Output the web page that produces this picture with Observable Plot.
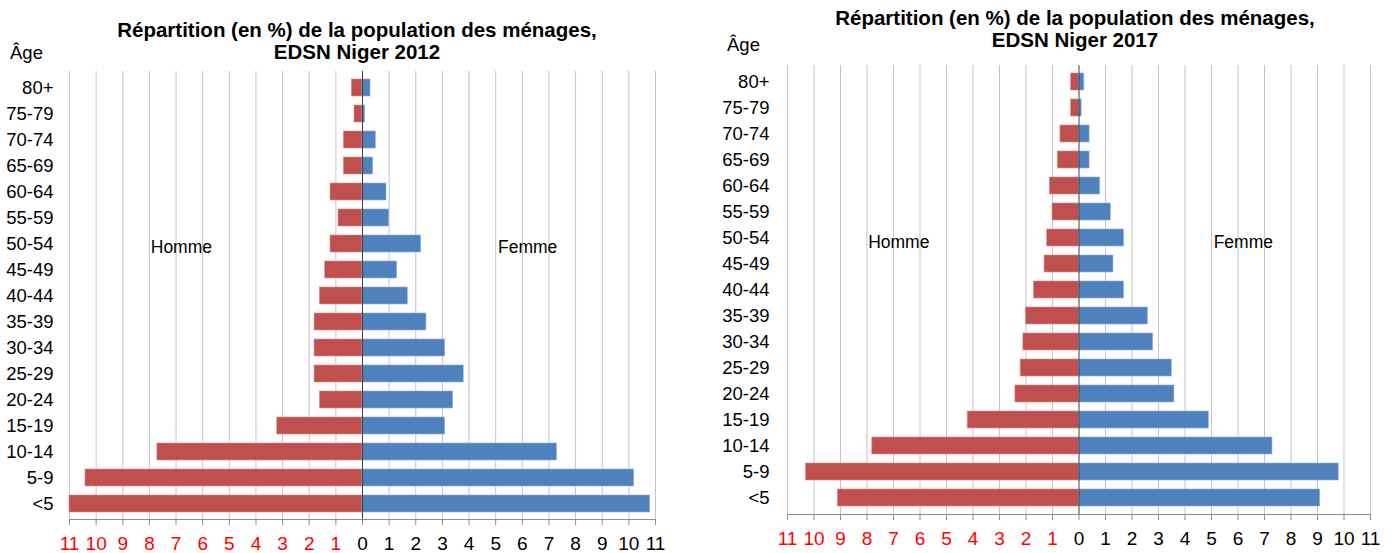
<!DOCTYPE html>
<html>
<head>
<meta charset="utf-8">
<script src="https://cdn.jsdelivr.net/npm/d3@7"></script>
<script src="https://cdn.jsdelivr.net/npm/@observablehq/plot@0.6"></script>
<style>
  html, body { margin: 0; padding: 0; background: #fff; }
  #page { position: relative; width: 1399px; height: 553px; overflow: hidden; font-family: "Liberation Sans", Arial, sans-serif; color: #000; }
  .chart { position: absolute; top: 0; }
  .title { position: absolute; width: 700px; text-align: center; font-weight: bold; font-size: 20.5px; line-height: 21.5px; white-space: nowrap; }
  .age { position: absolute; font-size: 18.5px; line-height: 18px; }
</style>
</head>
<body>
<div id="page">
  <div class="title" style="left:7px; top:19px;">Répartition (en %) de la population des ménages,<br>EDSN Niger 2012</div>
  <div class="title" style="left:725px; top:7px; line-height:22px;">Répartition (en %) de la population des ménages,<br>EDSN Niger 2017</div>
  <div class="age" style="left:10px; top:44px;">Âge</div>
  <div class="age" style="left:727px; top:36px;">Âge</div>
  <div id="left" class="chart" style="left:0px;"></div>
  <div id="right" class="chart" style="left:700px;"></div>
</div>
<script>
const ages = ["80+","75-79","70-74","65-69","60-64","55-59","50-54","45-49","40-44","35-39","30-34","25-29","20-24","15-19","10-14","5-9","<5"];

const hommes2012 = [0.4,0.3,0.7,0.7,1.2,0.9,1.2,1.4,1.6,1.8,1.8,1.8,1.6,3.2,7.7,10.4,11.0];
const femmes2012 = [0.3,0.1,0.5,0.4,0.9,1.0,2.2,1.3,1.7,2.4,3.1,3.8,3.4,3.1,7.3,10.2,10.8];

const hommes2017 = [0.3,0.3,0.7,0.8,1.1,1.0,1.2,1.3,1.7,2.0,2.1,2.2,2.4,4.2,7.8,10.3,9.1];
const femmes2017 = [0.2,0.1,0.4,0.4,0.8,1.2,1.7,1.3,1.7,2.6,2.8,3.5,3.6,4.9,7.3,9.8,9.1];

const xTicks = [-11,-10,-9,-8,-7,-6,-5,-4,-3,-2,-1,0,1,2,3,4,5,6,7,8,9,10,11];
const sexLabels = ["Homme", "Femme"];

const RED = "#C0504D", BLUE = "#4F81BD";

function pyramid(hommes, femmes, opts) {
  const rows = ages.map((a, i) => ({age: a, h: hommes[i], f: femmes[i]}));
  const neg = xTicks.filter(d => d < 0);
  const pos = xTicks.filter(d => d >= 0);
  return Plot.plot({
    width: opts.width,
    height: 553,
    marginLeft: opts.ml,
    marginRight: opts.mr,
    marginTop: opts.mt,
    marginBottom: opts.mb,
    style: {fontFamily: "'Liberation Sans', Arial, sans-serif", fontSize: "18px", color: "#000", background: "transparent"},
    x: {domain: [-11, 11]},
    y: {domain: ages, paddingInner: 0.35, paddingOuter: 0.175},
    marks: [
      Plot.ruleX(xTicks.filter(d => d !== 0), {x: d => d, stroke: "#c4c4c4", strokeWidth: 1}),
      Plot.barX(rows, {y: "age", x1: 0, x2: d => -d.h, fill: RED, stroke: "#d98c8a", strokeWidth: 0.6}),
      Plot.barX(rows, {y: "age", x1: 0, x2: d => d.f, fill: BLUE, stroke: "#8fb0d8", strokeWidth: 0.6}),
      Plot.ruleX([0], {stroke: "#404040", strokeWidth: 1}),
      Plot.frame({anchor: "bottom", stroke: "#8c8c8c"}),
      Plot.axisX(neg, {tickFormat: d => Math.abs(d), stroke: "#8c8c8c", fill: "#FF0000", tickSize: 6, tickPadding: opts.tp, fontSize: 19, label: null}),
      Plot.axisX(pos, {tickFormat: d => d, stroke: "#8c8c8c", fill: "#000", tickSize: 6, tickPadding: opts.tp, fontSize: 19, label: null}),
      Plot.axisY({tickSize: 0, tickPadding: opts.yp, fontSize: 18.5, label: null}),
      Plot.text([sexLabels[0]], {x: -6.8, y: () => "50-54", text: d => d, fontSize: 17.5, dy: opts.ldy}),
      Plot.text([sexLabels[1]], {x: 6.2, y: () => "50-54", text: d => d, fontSize: 17.5, dy: opts.ldy})
    ]
  });
}

document.getElementById("left").append(
  pyramid(hommes2012, femmes2012, {width: 700, ml: 69, mr: 45, mt: 71, mb: 34, tp: 11, yp: 16, ldy: 3})
);
document.getElementById("right").append(
  pyramid(hommes2017, femmes2017, {width: 699, ml: 87, mr: 29, mt: 65, mb: 39, tp: 11, yp: 18, ldy: 4})
);
</script>
</body>
</html>
